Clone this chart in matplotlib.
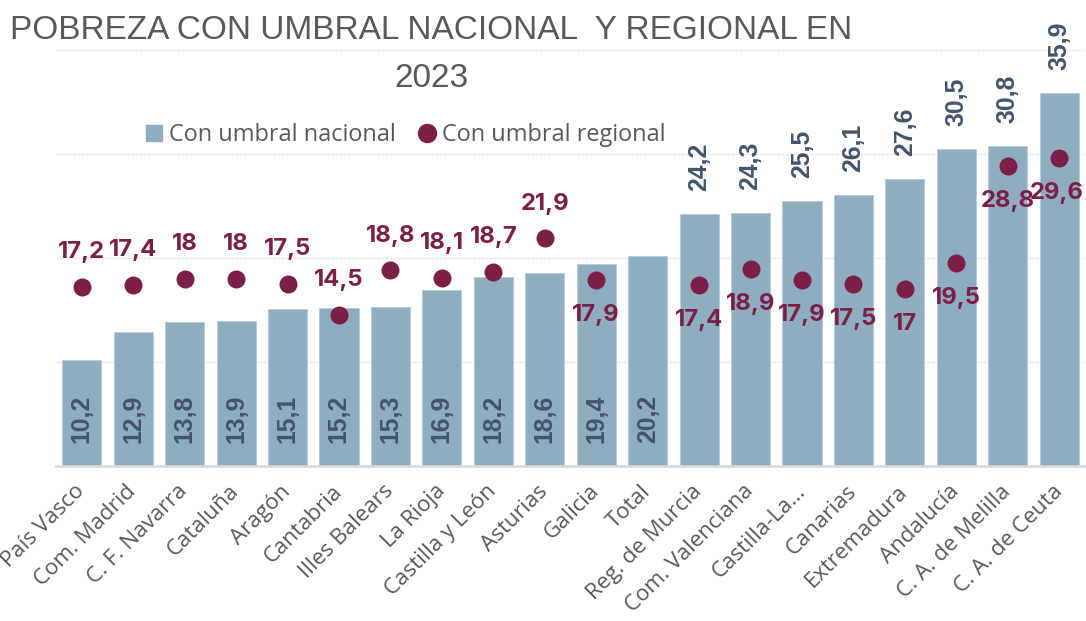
import matplotlib
matplotlib.use("Agg")
import matplotlib.pyplot as plt
from matplotlib.lines import Line2D
import numpy as np

categories = ["País Vasco", "Com. Madrid", "C. F. Navarra", "Cataluña", "Aragón",
              "Cantabria", "Illes Balears", "La Rioja", "Castilla y León", "Asturias",
              "Galicia", "Total", "Reg. de Murcia", "Com. Valenciana", "Castilla-La…",
              "Canarias", "Extremadura", "Andalucía", "C. A. de Melilla", "C. A. de Ceuta"]
nacional = [10.2, 12.9, 13.8, 13.9, 15.1, 15.2, 15.3, 16.9, 18.2, 18.6,
            19.4, 20.2, 24.2, 24.3, 25.5, 26.1, 27.6, 30.5, 30.8, 35.9]
regional = [17.2, 17.4, 18, 18, 17.5, 14.5, 18.8, 18.1, 18.7, 21.9,
            17.9, np.nan, 17.4, 18.9, 17.9, 17.5, 17, 19.5, 28.8, 29.6]
# label placement flags (styling)
regional_label_above = [True] * 10 + [False] * 10
nacional_label_inside = [True] * 12 + [False] * 8

BAR = "#8FADC0"
DOT = "#7B1F47"
BARTXT = "#44546A"
GRAY = "#595959"

def fmt(v):
    s = f"{v:.1f}".rstrip("0").rstrip(".") if v != int(v) else f"{int(v)}"
    return s.replace(".", ",")

W, H = 1086, 621
fig = plt.figure(figsize=(W / 100, H / 100), dpi=100)
ax = fig.add_axes([56 / W, 1 - 466 / H, (1085 - 56) / W, (466 - 50) / H])

x = np.arange(len(categories))
ax.bar(x, nacional, width=0.76, color=BAR, edgecolor="#B7CBD8", linewidth=0.6, zorder=2)
ax.scatter(x, regional, s=168, color=DOT, zorder=3, linewidths=0)

ax.set_xlim(-0.5, len(categories) - 0.5)
ax.set_ylim(0, 40)
ax.set_yticks([10, 20, 30, 40])
ax.yaxis.grid(True, color="#E6E6E6", linewidth=1.0, linestyle=(0, (2, 1)), zorder=0)
ax.tick_params(axis="y", length=0, labelleft=False)
ax.tick_params(axis="x", length=0, pad=16)
for s in ["left", "right", "top"]:
    ax.spines[s].set_visible(False)
ax.spines["bottom"].set_color("#D9D9D9")
ax.spines["bottom"].set_linewidth(2)
ax.spines["bottom"].set_zorder(4)

ax.set_xticks(x)
ax.set_xticklabels(categories, rotation=45, ha="right", va="center",
                   rotation_mode="anchor", fontsize=16, color=GRAY,
                   family=["Open Sans", "DejaVu Sans"])

outside = []
for i, v in enumerate(nacional):
    if nacional_label_inside[i]:
        ax.annotate(fmt(v), xy=(i, 0), xytext=(0, 16.5), textcoords="offset points",
                    rotation=90, ha="center", va="bottom", fontsize=17.8,
                    fontweight="bold", color=BARTXT, family="Liberation Sans", zorder=5)
    else:
        t = ax.annotate(fmt(v), xy=(i, v), xytext=(0, 16.5), textcoords="offset points",
                        rotation=90, ha="center", va="bottom", fontsize=17.8,
                        fontweight="bold", color=BARTXT, family="Liberation Sans",
                        zorder=5, annotation_clip=False)
        outside.append(t)

dot_labels = []
for i, v in enumerate(regional):
    if np.isnan(v):
        continue
    dy = 25 if regional_label_above[i] else -25
    t = ax.annotate(fmt(v), xy=(i, v), xytext=(0, dy), textcoords="offset points",
                    ha="center", va="center", fontsize=17.2, fontweight="bold",
                    color=DOT, family=["Inter", "Liberation Sans"], zorder=6,
                    annotation_clip=False)
    dot_labels.append(t)

fig.text(431 / W, 1 - 15 / H, "POBREZA CON UMBRAL NACIONAL  Y REGIONAL EN\n2023",
         ha="center", va="top", ma="center", fontsize=24, color=GRAY,
         family=["Liberation Sans Narrow", "Liberation Sans"], linespacing=1.72)

handles = [Line2D([], [], marker="s", linestyle="none", color=BAR, markersize=11),
           Line2D([], [], marker="o", linestyle="none", color=DOT, markersize=13)]
leg = fig.legend(handles, ["Con umbral nacional", "Con umbral regional"], ncol=2,
                 loc="center", bbox_to_anchor=(405 / W, 1 - 135 / H), frameon=False,
                 handletextpad=0.25, columnspacing=0.9, handlelength=0.8,
                 prop={"family": ["Open Sans", "DejaVu Sans"], "size": 16.9})
for t in leg.get_texts():
    t.set_color(GRAY)

fig.canvas.draw()
r = fig.canvas.get_renderer()
for t in outside:
    bb = t.get_window_extent(r)
    over = bb.y1 - (H - 20)
    if over > 0:
        ox, oy = t.xyann
        t.xyann = (ox, oy - over * 72 / 100)
# keep labels inside the right edge of the figure
for t in dot_labels + outside:
    bb = t.get_window_extent(r)
    over = bb.x1 - (W - 2)
    if over > 0:
        ox, oy = t.xyann
        t.xyann = (ox - over * 72 / 100, oy)

fig.savefig("out.png", dpi=100)
